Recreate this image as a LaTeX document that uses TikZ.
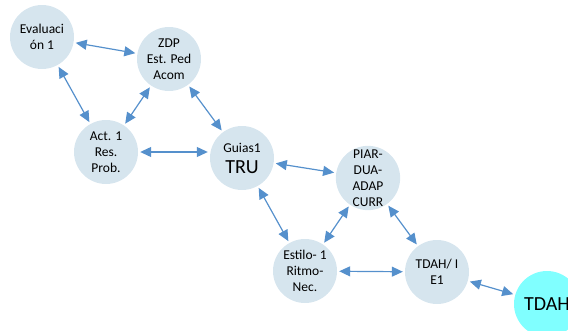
\documentclass[tikz,border=0pt]{standalone}
\usepackage{fontspec}
\setmainfont{Carlito}
\usepackage{tikz}
\usetikzlibrary{positioning,arrows.meta}

\definecolor{nodefill}{HTML}{D6E5EE}
\definecolor{tdahfill}{HTML}{80FFFF}
\definecolor{linkblue}{HTML}{5590CC}

\begin{document}
\begin{tikzpicture}
        [x=1pt,y=-1pt,
        <->,>={Triangle[length=11pt,width=10pt]},
        a/.style={text centered,align=center,circle,fill=nodefill,minimum size=64pt,inner sep=0pt,
            font=\fontsize{13.5}{16}\selectfont},
        big/.style={font=\fontsize{20}{22}\selectfont},
        link/.style={draw=linkblue,line width=1.2pt,shorten >=2pt,shorten <=2pt}]
        \useasboundingbox (0,0) rectangle (568,330);
        \clip (0,0) rectangle (568,330);
        \node[a] (eval) at (42,37) {Evaluaci\\ón 1};
        \node[a] (zdp) at (169,59) {ZDP\\Est. Ped\\Acom};
        \node[a] (act) at (106,152) {Act. 1\\Res.\\Prob.};
        \node[a] (guias) at (242,158) {Guias1\\[5pt]{\fontsize{20}{22}\selectfont TRU}};
        \node[a] (piar) at (368,178) {PIAR-\\DUA-\\ADAP\\CURR};
        \node[a] (estilo) at (305,271) {Estilo- 1\\Ritmo-\\Nec.};
        \node[a] (tdahie) at (437,272) {TDAH/ I\\E1};
        \node[a,big,fill=tdahfill,minimum size=66pt] (tdah) at (547,304) {TDAH};

        \draw[link] (eval) -- (zdp);
        \draw[link] (eval) -- (act);
        \draw[link] (act) -- (zdp);
        \draw[link] (zdp) -- (guias);
        \draw[link] (act.east) -- (guias.west |- act.east);
        \draw[link] (guias) -- (piar);
        \draw[link] (guias) -- (estilo);
        \draw[link] (estilo) -- (piar);
        \draw[link] (estilo) -- (tdahie);
        \draw[link] (piar) -- (tdahie);
        \draw[link] (tdahie) -- (tdah);
    \end{tikzpicture}
\end{document}
